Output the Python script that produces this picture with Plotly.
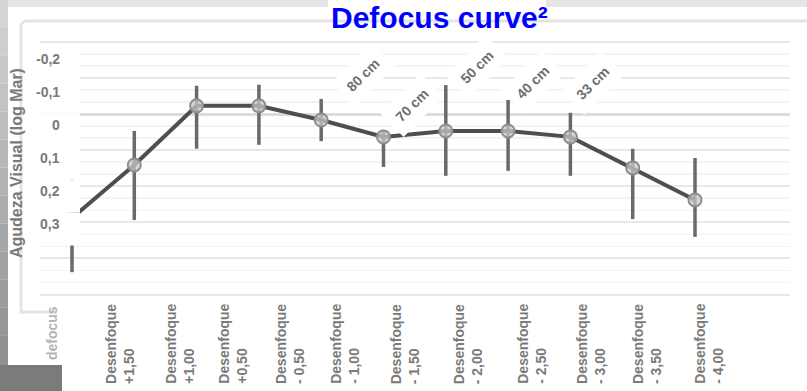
import numpy as np
import plotly.graph_objects as go

W, H = 807, 391

# Mean visual acuity (logMAR) per defocus step, with asymmetric error bars
acuity = [0.282, 0.121, -0.058, -0.058, -0.015, 0.036, 0.018, 0.018, 0.036, 0.130, 0.227]
err_down = [0.164, 0.167, 0.130, 0.118, 0.064, 0.091, 0.136, 0.121, 0.118, 0.155, 0.112]
err_up = [0.142, 0.103, 0.061, 0.064, 0.064, 0.021, 0.139, 0.094, 0.073, 0.058, 0.127]

# Category labels along the bottom and where they sit on the step axis
x_labels = ["defocus", "Desenfoque<br>+1,50", "Desenfoque<br>+1,00", "Desenfoque<br>+0,50",
            "Desenfoque<br>- 0,50", "Desenfoque<br>- 1,00", "Desenfoque<br>- 1,50",
            "Desenfoque<br>- 2,00", "Desenfoque<br>- 2,50", "Desenfoque<br>- 3,00",
            "Desenfoque<br>- 3,50", "Desenfoque<br>- 4,00"]
x_label_pos = [-0.32, 0.77, 1.73, 2.58, 3.50, 4.38, 5.35, 6.36, 7.38, 8.33, 9.23, 10.22]

# Y tick labels (logMAR)
y_ticks = [-0.2, -0.1, 0.0, 0.1, 0.2, 0.3]
y_tick_text = ["-0,2", "-0,1", "0", "0,1", "0,2", "0,3"]

# Reading distance callouts
dist_text = ["80 cm", "70 cm", "50 cm", "40 cm", "33 cm"]
dist_x = [4.67, 5.46, 6.50, 7.40, 8.36]
dist_y = [-0.152, -0.061, -0.176, -0.130, -0.127]

FONT = "Liberation Sans, Arial, sans-serif"
GREY_TXT = "#7a7a7a"

steps = np.arange(len(acuity))

# pixel helpers for the page layout
def px(x):
    return x / W

def py(y):
    return 1 - y / H

# plot box (pixels)
PX0, PX1, PY0, PY1 = 40, 790, 30, 300
X_ORIGIN, X_STEP = 72, 62.3          # pixel of step 0, pixels per step
Y_ZERO, Y_SCALE = 125, 330           # pixel of logMAR 0, pixels per logMAR unit
G_ZERO, G_STEP = 114, 36.1           # grid axis

fig = go.Figure()

# grid carrier (main y axis)
fig.add_trace(go.Scatter(x=[None], y=[None], xaxis="x", yaxis="y",
                         showlegend=False, hoverinfo="skip"))

fig.add_trace(go.Scatter(
    x=steps, y=acuity, xaxis="x", yaxis="y2",
    mode="lines+markers",
    line=dict(color="#4e4e4e", width=4),
    marker=dict(size=13, color="rgba(200,200,200,0.75)",
                line=dict(color="#8e8e8e", width=2)),
    error_y=dict(type="data", symmetric=False, array=err_down, arrayminus=err_up,
                 color="#6a6a6a", thickness=3.5, width=0),
    showlegend=False, hoverinfo="skip",
))

shapes = []
# top grey strip
shapes.append(dict(type="rect", xref="paper", yref="paper", x0=0, x1=1, y0=py(7), y1=1,
                   fillcolor="#e6e6e6", line_width=0, layer="below"))
# white patch behind the title
shapes.append(dict(type="rect", xref="paper", yref="paper", x0=px(328), x1=px(546), y0=py(8), y1=1,
                   fillcolor="white", line_width=0, layer="below"))
# left strip, stepped gradient
n_band = 14
for i in range(n_band):
    t = i / (n_band - 1)
    c = int(212 - t * (212 - 140))
    y0 = i * H / n_band
    y1 = (i + 1) * H / n_band
    shapes.append(dict(type="rect", xref="paper", yref="paper", x0=0, x1=px(8),
                       y0=py(y1), y1=py(y0), fillcolor=f"rgb({c},{c},{c})",
                       line_width=0, layer="below"))
# bottom-left block
shapes.append(dict(type="rect", xref="paper", yref="paper", x0=0, x1=px(62), y0=0, y1=py(365),
                   fillcolor="#7b7b7b", line_width=0, layer="below"))
# faint frame of the chart panel
shapes.append(dict(type="path", xref="paper", yref="paper",
                   path=f"M {px(56)} {py(312)} L {px(21)} {py(312)} L {px(21)} {py(27)} "
                        f"Q {px(21)} {py(21)} {px(27)} {py(21)} L {px(807)} {py(21)}",
                   line=dict(color="#e4e4e4", width=3), layer="below"))
# white boxes behind the y tick labels
for v in y_ticks:
    shapes.append(dict(type="rect", xref="paper", yref="y2", x0=px(34), x1=px(80),
                       y0=v - 0.035, y1=v + 0.065, fillcolor="white", line_width=0,
                       layer="above"))

annotations = []
# title
annotations.append(dict(text="<b>Defocus curve²</b>", xref="paper", yref="paper",
                        x=px(330), y=1, xanchor="left", yanchor="top", showarrow=False,
                        borderpad=0, font=dict(family=FONT, size=30, color="#0000ff")))
# y axis title
annotations.append(dict(text="<b>Agudeza Visual (log Mar)</b>", xref="paper", yref="paper",
                        x=px(17), y=py(163), xanchor="center", yanchor="middle",
                        textangle=-90, showarrow=False,
                        font=dict(family=FONT, size=16, color=GREY_TXT)))
# y tick labels
for v, t in zip(y_ticks, y_tick_text):
    annotations.append(dict(text=f"<b>{t}</b>", xref="paper", yref="y2", x=px(62), y=v,
                            xanchor="right", yanchor="middle", showarrow=False,
                            font=dict(family=FONT, size=14, color=GREY_TXT)))
# x category labels
for i, (p, t) in enumerate(zip(x_label_pos, x_labels)):
    annotations.append(dict(text=f"<b>{t}</b>", xref="x", yref="paper", x=p,
                            y=py(386 if i else 362), xanchor="center", yanchor="bottom",
                            textangle=-90, align="left", showarrow=False,
                            font=dict(family=FONT, size=14,
                                      color=GREY_TXT if i else "#b4b4b4")))
# distance callouts
for t, xv, yv in zip(dist_text, dist_x, dist_y):
    annotations.append(dict(text=f"<b>{t}</b>", xref="x", yref="y2", x=xv, y=yv,
                            xanchor="center", yanchor="middle", textangle=-45,
                            showarrow=False, bgcolor="white", borderpad=8,
                            font=dict(family=FONT, size=14, color="#6e6e6e")))

x_range = [(PX0 - X_ORIGIN) / X_STEP, (PX1 - X_ORIGIN) / X_STEP]
y_range = [(PY1 - Y_ZERO) / Y_SCALE, (PY0 - Y_ZERO) / Y_SCALE]
g_range = [(PY1 - G_ZERO) / G_STEP, (PY0 - G_ZERO) / G_STEP]

fig.update_layout(
    width=W, height=H, autosize=False,
    margin=dict(l=0, r=0, t=0, b=0),
    paper_bgcolor="white", plot_bgcolor="rgba(0,0,0,0)",
    xaxis=dict(domain=[px(PX0), px(PX1)], range=x_range, showgrid=False, zeroline=False,
               showticklabels=False, showline=False, ticks="", fixedrange=True),
    yaxis=dict(domain=[py(PY1), py(PY0)], range=g_range, tick0=0, dtick=1,
               showgrid=True, gridcolor="#e8e8e8", gridwidth=2,
               zeroline=True, zerolinecolor="#dcdcdc", zerolinewidth=3,
               minor=dict(dtick=1 / 3, tick0=0, showgrid=True, gridcolor="#f3f3f3", gridwidth=1.5),
               showticklabels=False, ticks="", showline=False, fixedrange=True),
    yaxis2=dict(overlaying="y", range=y_range, showgrid=False, zeroline=False,
                showticklabels=False, ticks="", showline=False, fixedrange=True),
    shapes=shapes, annotations=annotations,
)

fig.write_html("out.html", config={"displayModeBar": False, "staticPlot": True})
